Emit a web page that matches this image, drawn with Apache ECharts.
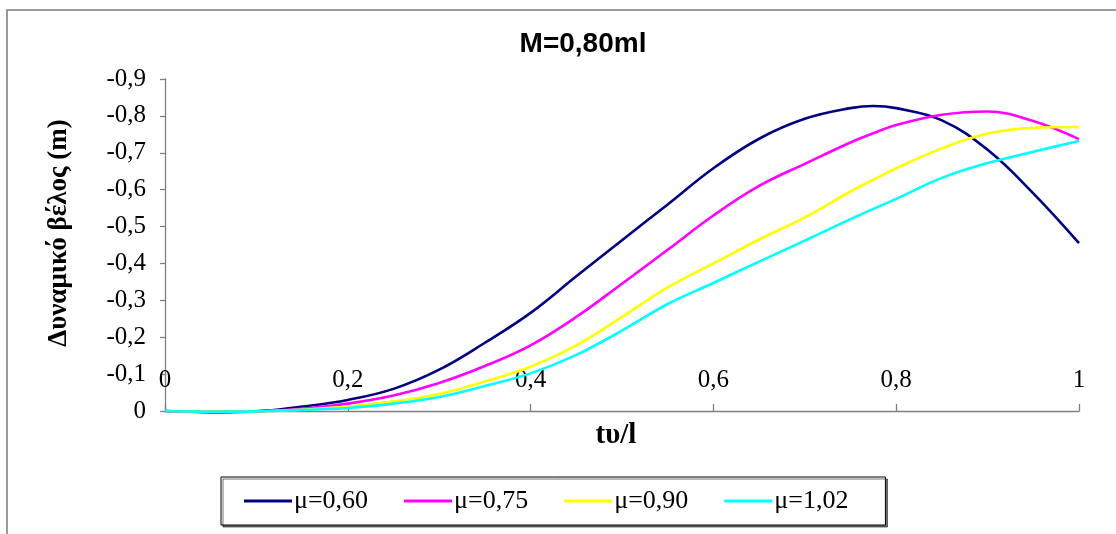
<!DOCTYPE html>
<html>
<head>
<meta charset="utf-8">
<script src="https://cdn.jsdelivr.net/npm/echarts@6/dist/echarts.min.js"></script>
<style>
  html, body { margin: 0; padding: 0; background: #fff; }
  #chart { width: 1116px; height: 534px; }
</style>
</head>
<body>
<div id="chart"></div>
<script>
// Relative position along the span (tυ/l)
const positions = [0, 0.05, 0.1, 0.15, 0.2, 0.25, 0.3, 0.35, 0.4, 0.45, 0.5,
                   0.55, 0.6, 0.65, 0.7, 0.75, 0.775, 0.8, 0.85, 0.9, 0.95, 1];

// Dynamic deflection (m) for each mass ratio μ
const mu060 = [0, 0.003, 0.001, -0.012, -0.03, -0.06, -0.112, -0.185, -0.266, -0.365, -0.463,
               -0.56, -0.658, -0.738, -0.792, -0.821, -0.827, -0.821, -0.788, -0.708, -0.59, -0.455];
const mu075 = [0, 0.003, 0.001, -0.006, -0.02, -0.042, -0.076, -0.122, -0.178, -0.255, -0.345,
               -0.437, -0.53, -0.61, -0.67, -0.728, -0.753, -0.775, -0.803, -0.812, -0.786, -0.737];
const mu090 = [0, 0.002, 0.001, -0.004, -0.012, -0.026, -0.046, -0.08, -0.12, -0.178, -0.255,
               -0.335, -0.4, -0.465, -0.525, -0.595, -0.627, -0.658, -0.712, -0.752, -0.768, -0.77];
const mu102 = [0, 0.002, 0.001, -0.003, -0.008, -0.02, -0.038, -0.068, -0.102, -0.152, -0.218,
               -0.29, -0.347, -0.405, -0.462, -0.52, -0.548, -0.575, -0.632, -0.672, -0.703, -0.732];

const seriesNames = ['μ=0,60', 'μ=0,75', 'μ=0,90', 'μ=1,02'];
const seriesColors = ['#000080', '#ff00ff', '#ffff00', '#00ffff'];
const seriesValues = [mu060, mu075, mu090, mu102];

const serif = '"Times New Roman", "Liberation Serif", serif';
const sans = 'Arial, "Liberation Sans", sans-serif';

function decimalComma(v) {
  return String(Number(v.toFixed(1))).replace('.', ',');
}

const chart = echarts.init(document.getElementById('chart'), null, { renderer: 'canvas' });

chart.setOption({
  animation: false,
  backgroundColor: '#fff',
  graphic: [{
    type: 'rect',
    shape: { x: 7, y: 10, width: 1200, height: 600 },
    style: { fill: 'none', stroke: '#7a7a7a', lineWidth: 1.5 },
    silent: true
  }],
  title: {
    text: 'M=0,80ml',
    left: 578,
    textAlign: 'center',
    top: 25,
    textStyle: { fontFamily: sans, fontWeight: 'bold', fontSize: 28, color: '#000' }
  },
  legend: {
    left: 221,
    top: 477,
    orient: 'horizontal',
    padding: [11, 37, 11, 23],
    icon: 'rect',
    itemWidth: 48,
    itemHeight: 3,
    itemGap: 36,
    backgroundColor: '#fff',
    borderColor: '#000',
    borderWidth: 1,
    borderRadius: 0,
    shadowColor: 'rgba(0,0,0,0.55)',
    shadowBlur: 0,
    shadowOffsetX: 2,
    shadowOffsetY: 2,
    textStyle: { fontFamily: serif, fontSize: 26, color: '#000', padding: [0, 0, 0, -3] },
    data: seriesNames.map((n, i) => ({ name: n, itemStyle: { color: seriesColors[i] } }))
  },
  grid: { left: 165, right: 37, top: 79, bottom: 123, containLabel: false },
  xAxis: {
    type: 'value',
    min: 0,
    max: 1,
    interval: 0.2,
    name: 'tυ/l',
    nameLocation: 'middle',
    nameGap: 10,
    nameTextStyle: { fontFamily: serif, fontWeight: 'bold', fontSize: 29, color: '#000', padding: [0, 12, 0, 0] },
    axisLine: { show: true, onZero: false, lineStyle: { color: '#808080', width: 1.3 } },
    axisTick: { show: true, inside: true, length: 7, lineStyle: { color: '#808080', width: 1.3 } },
    axisLabel: {
      inside: true,
      margin: 18,
      showMinLabel: true,
      showMaxLabel: true,
      fontFamily: serif,
      fontSize: 25,
      color: '#000',
      formatter: decimalComma
    },
    splitLine: { show: false }
  },
  yAxis: {
    type: 'value',
    min: -0.9,
    max: 0,
    interval: 0.1,
    inverse: true,
    name: 'Δυναμικό βέλος (m)',
    nameLocation: 'middle',
    nameGap: 92,
    nameTextStyle: { fontFamily: serif, fontWeight: 'bold', fontSize: 27, color: '#000', padding: [0, 0, 0, 24] },
    axisLine: { show: true, onZero: false, lineStyle: { color: '#808080', width: 1.3 } },
    axisTick: { show: true, inside: false, length: 5, lineStyle: { color: '#808080', width: 1.3 } },
    axisLabel: {
      margin: 19,
      fontFamily: serif,
      fontSize: 25,
      color: '#000',
      formatter: decimalComma
    },
    splitLine: { show: false }
  },
  series: seriesValues.map((vals, i) => ({
    name: seriesNames[i],
    type: 'line',
    smooth: 0.4,
    symbol: 'none',
    clip: false,
    color: seriesColors[i],
    lineStyle: { color: seriesColors[i], width: 2.6 },
    data: positions.map((t, k) => [t, vals[k]])
  }))
});
</script>
</body>
</html>
